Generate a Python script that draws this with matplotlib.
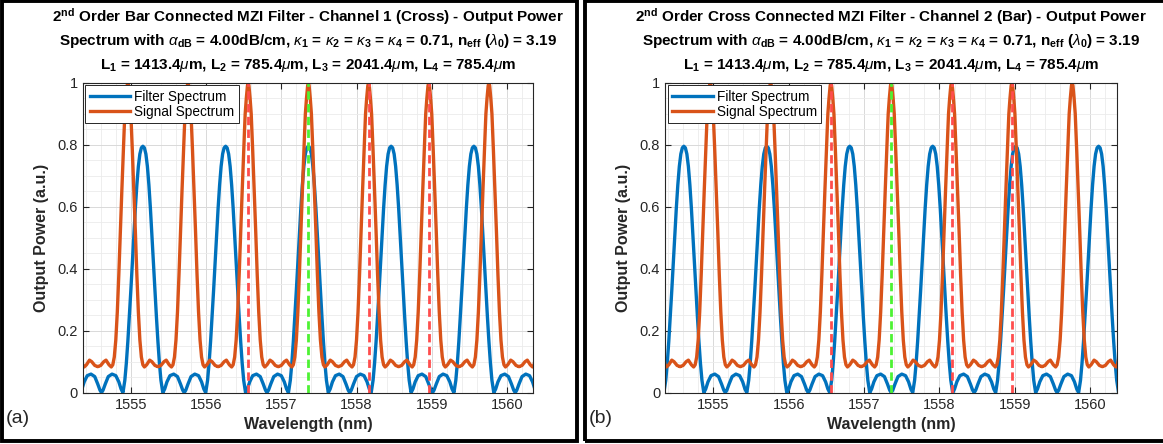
import matplotlib.pyplot as plt
import numpy as np
from matplotlib.patches import Rectangle

plt.rcParams['font.family'] = ['Liberation Sans', 'DejaVu Sans']
plt.rcParams['mathtext.fontset'] = 'custom'
plt.rcParams['mathtext.rm'] = 'Liberation Sans'
plt.rcParams['mathtext.it'] = 'Liberation Sans:italic'
plt.rcParams['mathtext.bf'] = 'Liberation Sans:bold'

# ---- data ----
# signal spectrum: one period (0.8 nm) read around a peak, offset (nm) -> power
sig_offsets = [0.0, 0.01, 0.025, 0.04, 0.05, 0.06, 0.08, 0.10, 0.12, 0.14,
               0.16, 0.18, 0.20, 0.22, 0.25, 0.29, 0.32, 0.36, 0.40]
sig_values = [1.0, 0.99, 0.95, 0.90, 0.84, 0.78, 0.65, 0.52, 0.38, 0.26,
              0.17, 0.115, 0.09, 0.083, 0.09, 0.105, 0.10, 0.088, 0.084]
sig_centers = [1554.16, 1554.96, 1555.76, 1556.56, 1557.36, 1558.16,
               1558.96, 1559.76, 1560.56]

# filter spectrum: one period (1.1 nm) read around a peak
filt_offsets = [0.0, 0.02, 0.04, 0.06, 0.08, 0.10, 0.12, 0.14, 0.16, 0.18,
                0.20, 0.22, 0.24, 0.265, 0.29, 0.32, 0.36, 0.41, 0.46, 0.50,
                0.53, 0.55]
filt_values = [0.795, 0.79, 0.77, 0.73, 0.67, 0.595, 0.51, 0.42, 0.33, 0.245,
               0.165, 0.095, 0.04, 0.0, 0.012, 0.035, 0.055, 0.06, 0.052,
               0.028, 0.008, 0.0]
filt_centers_a = [1554.06, 1555.16, 1556.26, 1557.36, 1558.46, 1559.56, 1560.66]
filt_centers_b = [1553.51, 1554.61, 1555.71, 1556.81, 1557.91, 1559.01, 1560.11]

red_lines = [1556.56, 1558.16, 1558.96]
green_line = 1557.36

x_ticks = [1555, 1556, 1557, 1558, 1559, 1560]
y_ticks = [0, 0.2, 0.4, 0.6, 0.8, 1]
y_ticklabels = ['0', '0.2', '0.4', '0.6', '0.8', '1']

titles = [
    (r"2$^{\mathbf{nd}}$ Order Bar Connected MZI Filter - Channel 1 (Cross) - Output Power",
     r"Spectrum with $\alpha_{\mathbf{dB}}$ = 4.00dB/cm, $\kappa_{\mathbf{1}}$ = $\kappa_{\mathbf{2}}$ = $\kappa_{\mathbf{3}}$ = $\kappa_{\mathbf{4}}$ = 0.71, n$_{\mathbf{eff}}$ ($\lambda_{\mathbf{0}}$) = 3.19",
     r"L$_{\mathbf{1}}$ = 1413.4$\mu$m, L$_{\mathbf{2}}$ = 785.4$\mu$m, L$_{\mathbf{3}}$ = 2041.4$\mu$m, L$_{\mathbf{4}}$ = 785.4$\mu$m"),
    (r"2$^{\mathbf{nd}}$ Order Cross Connected MZI Filter - Channel 2 (Bar) - Output Power",
     r"Spectrum with $\alpha_{\mathbf{dB}}$ = 4.00dB/cm, $\kappa_{\mathbf{1}}$ = $\kappa_{\mathbf{2}}$ = $\kappa_{\mathbf{3}}$ = $\kappa_{\mathbf{4}}$ = 0.71, n$_{\mathbf{eff}}$ ($\lambda_{\mathbf{0}}$) = 3.19",
     r"L$_{\mathbf{1}}$ = 1413.4$\mu$m, L$_{\mathbf{2}}$ = 785.4$\mu$m, L$_{\mathbf{3}}$ = 2041.4$\mu$m, L$_{\mathbf{4}}$ = 785.4$\mu$m"),
]
panel_tags = ['(a)', '(b)']

W, H = 1163, 444
blue = (0, 0.447, 0.741)
orange = (0.85, 0.325, 0.098)
axcol = (0.15, 0.15, 0.15)


def tile(offsets, values, centers):
    # mirror the half period and place it at every read-off centre
    off = np.array(offsets)
    val = np.array(values)
    full_off = np.concatenate([-off[:0:-1], off])
    full_val = np.concatenate([val[:0:-1], val])
    xs = np.concatenate([c + full_off for c in centers])
    ys = np.concatenate([full_val for c in centers])
    return xs, ys


fig = plt.figure(figsize=(W / 100, H / 100), dpi=100)

ax_boxes = [(82.7, 533.3), (665.0, 1116.7)]
filt_sets = [filt_centers_a, filt_centers_b]
panel_x = [(0, 578), (583, 1166)]

for i in range(2):
    x0, x1 = ax_boxes[i]
    ax = fig.add_axes([x0 / W, (H - 392.7) / H, (x1 - x0) / W, 310 / H])

    fx, fy = tile(filt_offsets, filt_values, filt_sets[i])
    sx, sy = tile(sig_offsets, sig_values, sig_centers)
    ax.plot(fx, fy, color=blue, lw=2.4, label='Filter Spectrum')
    ax.plot(sx, sy, color=orange, lw=2.4, label='Signal Spectrum')
    for r in red_lines:
        ax.plot([r, r], [0, 1], color=(1, 0.3, 0.3), lw=2.0, dashes=(3.0, 1.6))
    ax.plot([green_line, green_line], [0, 1], color=(0.3, 0.95, 0.2), lw=2.0,
            dashes=(3.0, 1.6))

    ax.set_xlim(1554.36, 1560.35)
    ax.set_ylim(0, 1)
    ax.set_xticks(x_ticks)
    ax.set_xticklabels([str(t) for t in x_ticks])
    ax.set_yticks(y_ticks)
    ax.set_yticklabels(y_ticklabels)
    ax.set_xticks(np.arange(1554.4, 1560.4, 0.2), minor=True)
    ax.set_yticks(np.arange(0, 1.0001, 0.05), minor=True)
    ax.grid(True, which='major', color=(0.85, 0.85, 0.85), lw=0.7)
    ax.grid(True, which='minor', color=(0.92, 0.92, 0.92), lw=0.6)
    ax.set_axisbelow(True)
    ax.tick_params(which='both', direction='in', top=True, right=True,
                   colors=axcol, labelsize=10.5, length=4)
    ax.tick_params(which='minor', length=0)
    for s in ax.spines.values():
        s.set_color(axcol)
        s.set_linewidth(0.8)

    ax.set_xlabel('Wavelength (nm)', fontsize=11.5, fontweight='bold',
                  color=axcol, labelpad=4)
    ax.set_ylabel('Output Power (a.u.)', fontsize=11.5, fontweight='bold',
                  color=axcol, labelpad=6)

    leg = ax.legend(loc='upper left', fontsize=9.8, handlelength=3.0,
                    borderpad=0.3, labelspacing=0.1, handletextpad=0.3,
                    borderaxespad=0.2, fancybox=False, framealpha=1)
    leg.get_frame().set_edgecolor(axcol)
    leg.get_frame().set_linewidth(0.7)

    cx = (x0 + x1) / 2 / W
    for k, t in enumerate(titles[i]):
        fig.text(cx, 1 - (17 + 24 * k) / H, t, ha='center', va='center',
                 fontsize=11, fontweight='bold', color='black')

    px0, px1 = panel_x[i]
    fig.text((px0 + 6) / W, 1 - 418 / H, panel_tags[i], ha='left',
             va='center', fontsize=14, color=axcol)
    fig.patches.append(Rectangle((px0 / W + 1.5 / W, 3 / H),
                                 (px1 - px0 - 3) / W, (H - 4.5) / H,
                                 transform=fig.transFigure, fill=False,
                                 edgecolor='black', lw=2.8))

fig.savefig('out.png', dpi=100)
